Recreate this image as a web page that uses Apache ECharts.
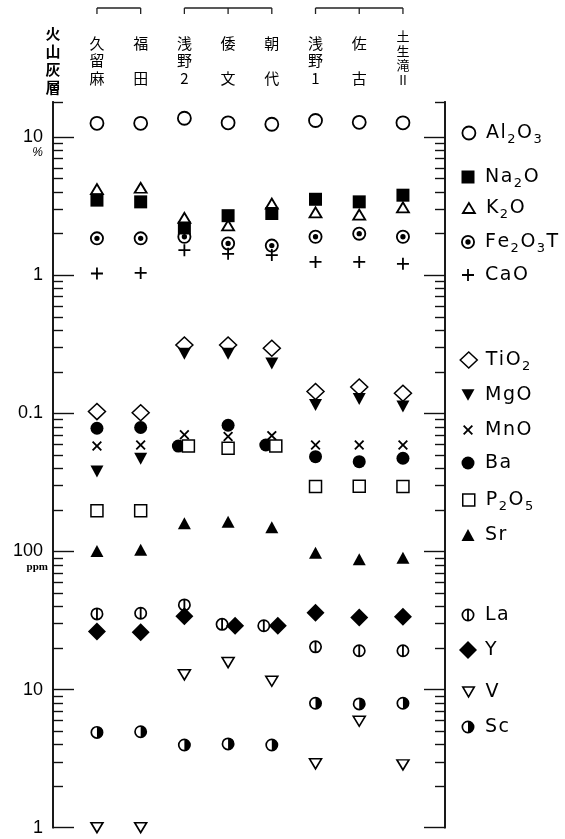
<!DOCTYPE html>
<html>
<head>
<meta charset="UTF-8">
<title>火山灰層の化学組成</title>
<script src="https://cdn.jsdelivr.net/npm/echarts@6/dist/echarts.min.js"></script>
<style>
    html, body { margin: 0; padding: 0; background: #fff; }
    #chart { width: 565px; height: 839px; }
</style>
</head>
<body>
<div id="chart"></div>
<script>
    // 火山灰層
    var layers = ['久留麻', '福田', '浅野2', '倭文', '朝代', '浅野1', '佐古', '土生滝II'];

    // 主成分 (%)
    var Al2O3  = [12.6, 12.6, 13.7, 12.7, 12.4, 13.2, 12.8, 12.7];
    var Na2O   = [3.5, 3.4, 2.2, 2.7, 2.8, 3.55, 3.4, 3.8];
    var K2O    = [4.2, 4.3, 2.6, 2.3, 3.3, 2.85, 2.75, 3.1];
    var Fe2O3T = [1.85, 1.85, 1.9, 1.7, 1.64, 1.9, 2.0, 1.9];
    var CaO    = [1.03, 1.04, 1.52, 1.43, 1.4, 1.25, 1.25, 1.21];
    var TiO2   = [0.103, 0.101, 0.313, 0.313, 0.296, 0.144, 0.155, 0.14];
    var MgO    = [0.038, 0.047, 0.27, 0.27, 0.23, 0.115, 0.127, 0.112];
    var MnO    = [0.058, 0.059, 0.07, 0.068, 0.069, 0.059, 0.059, 0.059];
    var P2O5   = [0.0197, 0.0197, 0.058, 0.056, 0.058, 0.0295, 0.0297, 0.0295];

    // 微量成分 (ppm)
    var Ba = [780, 790, 580, 820, 590, 486, 447, 473];
    var Sr = [101, 103, 160, 164, 150, 98, 88, 90];
    var La = [35.3, 35.7, 41, 29.7, 29, 20.4, 19.1, 19.1];
    var Y  = [26.3, 26, 34, 29, 29, 36, 33.2, 33.7];
    var V  = [1, 1, 12.8, 15.7, 11.5, 2.9, 5.9, 2.85];
    var Sc = [4.9, 4.95, 3.97, 4.04, 3.97, 7.96, 7.87, 7.96];

    // 目盛 (軸は ppm、上側は % 表示)
    var majorTicks = [1, 10, 100, 1000, 10000, 100000];
    var tickLabels = ['1', '10', '100', '0.1', '1', '10'];
    var tickUnits  = ['', '', 'ppm', '', '', '%'];
    var yMax = 180000;
    var PCT = 10000;   // 1% = 10000 ppm

    var minorTicks = [];
    for (var k = 0; k < 6; k++) {
        for (var m = 2; m < 10; m++) {
            if (m * Math.pow(10, k) < yMax) minorTicks.push(m * Math.pow(10, k));
        }
    }
    minorTicks.push(yMax);

    // 記号
    function polyPath(pts) {
        return 'M' + pts.map(function (p) { return p[0].toFixed(2) + ',' + p[1].toFixed(2); }).join('L') + 'Z';
    }
    var plusPts = [[-1.2, -8], [1.2, -8], [1.2, -1.2], [8, -1.2], [8, 1.2], [1.2, 1.2], [1.2, 8],
        [-1.2, 8], [-1.2, 1.2], [-8, 1.2], [-8, -1.2], [-1.2, -1.2]];
    var PLUS = polyPath(plusPts);
    var CROSS = polyPath(plusPts.map(function (p) {
        return [(p[0] - p[1]) * Math.SQRT1_2, (p[0] + p[1]) * Math.SQRT1_2];
    }));
    var RING = 'M0,-10A10,10,0,1,1,0,10A10,10,0,1,1,0,-10ZM0,-7.4A7.4,7.4,0,1,0,0,7.4A7.4,7.4,0,1,0,0,-7.4Z';
    var DOT  = 'M0,-3.8A3.8,3.8,0,1,1,0,3.8A3.8,3.8,0,1,1,0,-3.8Z';
    var BAR  = 'M-1.4,-9L1.4,-9L1.4,9L-1.4,9Z';
    var HALF = 'M0,-7.4A7.4,7.4,0,0,1,0,7.4Z';
    var TRI_DOWN = 'M-10,-8.7L10,-8.7L0,8.7Z';

    var marks = [
        {name: 'Al2O3', data: Al2O3, pct: true, symbol: 'circle', size: [13, 13], open: true, bw: 1.8},
        {name: 'Fe2O3T', data: Fe2O3T, pct: true, symbol: 'path://' + RING + DOT, size: [14, 14]},
        {name: 'CaO', data: CaO, pct: true, symbol: 'path://' + PLUS, size: [12, 12]},
        {name: 'K2O', data: K2O, pct: true, symbol: 'triangle', size: [12, 10], open: true, bw: 1.8},
        {name: 'Na2O', data: Na2O, pct: true, symbol: 'rect', size: [13, 13]},
        {name: 'TiO2', data: TiO2, pct: true, symbol: 'diamond', size: [17, 16], open: true, bw: 1.5},
        {name: 'MgO', data: MgO, pct: true, symbol: 'path://' + TRI_DOWN, size: [13, 12]},
        {name: 'MnO', data: MnO, pct: true, symbol: 'path://' + CROSS, size: [10, 10]},
        {name: 'Ba', data: Ba, symbol: 'circle', size: [13, 13], shift: {2: -6, 4: -6}},
        {name: 'P2O5', data: P2O5, pct: true, symbol: 'rect', size: [12, 12], open: true, bw: 1.5, shift: {2: 4, 4: 4}},
        {name: 'Sr', data: Sr, symbol: 'triangle', size: [13, 12]},
        {name: 'La', data: La, symbol: 'path://' + RING + BAR, size: [13, 13], shift: {3: -6, 4: -8}},
        {name: 'Y', data: Y, symbol: 'diamond', size: [18, 18], shift: {3: 7, 4: 6}},
        {name: 'V', data: V, symbol: 'path://' + TRI_DOWN, size: [12, 10], open: true, bw: 1.6},
        {name: 'Sc', data: Sc, symbol: 'path://' + RING + HALF, size: [13, 13]}
    ];

    var legendRows = [['Al2O3', 133], ['Na2O', 177], ['K2O', 208], ['Fe2O3T', 242], ['CaO', 275],
        ['TiO2', 360], ['MgO', 395], ['MnO', 430], ['Ba', 463], ['P2O5', 500], ['Sr', 535],
        ['La', 615], ['Y', 650], ['V', 692], ['Sc', 727]];

    var chart = echarts.init(document.getElementById('chart'));

    function styleOf(mk) {
        return mk.open
            ? {color: '#fff', borderColor: '#000', borderWidth: mk.bw, opacity: 1}
            : {color: '#000', borderWidth: 0, opacity: 1};
    }

    var series = marks.map(function (mk) {
        return {
            name: mk.name,
            type: 'scatter',
            clip: false,
            symbol: mk.symbol,
            symbolSize: mk.size,
            itemStyle: styleOf(mk),
            data: mk.data.map(function (v, i) {
                var item = {value: [i, mk.pct ? v * PCT : v]};
                if (mk.shift && mk.shift[i]) item.symbolOffset = [mk.shift[i], 0];
                return item;
            })
        };
    });

    var byName = {};
    marks.forEach(function (mk) { byName[mk.name] = mk; });

    var legends = legendRows.map(function (row) {
        var mk = byName[row[0]];
        var w = mk.size[0], h = mk.size[1];
        return {
            data: [{name: row[0], icon: mk.symbol, itemStyle: styleOf(mk)}],
            left: 468 - w / 2,
            top: row[1] - 13,
            padding: 0,
            itemWidth: w,
            itemHeight: h,
            selectedMode: false,
            formatter: function (name) {
                return name.split('').map(function (c) {
                    return /\d/.test(c) ? '{s|' + c + '}' : '{a|' + c + '}';
                }).join('');
            },
            textStyle: {
                color: '#000', fontSize: 19, lineHeight: 26, fontFamily: 'DejaVu Sans',
                padding: [0, 0, 0, 12 - w / 2],
                rich: {
                    a: {fontSize: 19, lineHeight: 26, fontFamily: 'DejaVu Sans', color: '#000', padding: [0, 1.5, 0, 0]},
                    s: {fontSize: 13, lineHeight: 13, verticalAlign: 'bottom', fontFamily: 'DejaVu Sans', color: '#000', padding: [0, 1.5, 0, 0]}
                }
            }
        };
    });

    function labelFor(v) {
        var i = Math.round(Math.log(v) / Math.LN10);
        if (!tickLabels[i]) return '';
        var u = tickUnits[i];
        if (!u) return '{n|' + tickLabels[i] + '}';
        return '{e| }\n{n|' + tickLabels[i] + '}\n{' + (u === '%' ? 'p' : 'u') + '|' + u + '}';
    }

    function yAx(side, major) {
        return {
            type: 'log', logBase: 10, min: 1, max: yMax,
            position: side,
            offset: side === 'left' ? 22.1 : 20.2,
            axisLine: {show: true, lineStyle: {color: '#111', width: 1.6}},
            axisTick: {
                show: true, inside: true, length: major ? 21 : 10,
                lineStyle: {color: '#111', width: 1.4},
                customValues: major ? majorTicks : minorTicks
            },
            axisLabel: {show: false},
            splitLine: {show: false},
            minorTick: {show: false}
        };
    }

    var yMain = yAx('left', true);
    yMain.axisLabel = {
        show: true,
        margin: 5,
        customValues: majorTicks,
        formatter: labelFor,
        color: '#000',
        rich: {
            n: {fontSize: 18, lineHeight: 18, fontFamily: 'Liberation Sans', color: '#000', padding: [0, 5, 0, 0]},
            e: {fontSize: 10, lineHeight: 13},
            p: {fontSize: 12, lineHeight: 13, fontStyle: 'italic', fontFamily: 'Liberation Sans', color: '#000', padding: [0, 5, 0, 0]},
            u: {fontSize: 11, lineHeight: 13, fontWeight: 'bold', fontFamily: 'Liberation Serif', color: '#000'}
        }
    };
    yMain.name = '火\n山\n灰\n層';
    yMain.nameLocation = 'end';
    yMain.nameGap = 6;
    yMain.nameTextStyle = {
        color: '#000', fontSize: 15, lineHeight: 18, fontWeight: 'bold',
        fontFamily: 'Noto Sans CJK JP', align: 'center', verticalAlign: 'bottom'
    };

    var option = {
        animation: false,
        backgroundColor: '#fff',
        grid: {left: 75.1, right: 140.2, top: 101.9, bottom: 11.3, containLabel: false, outerBoundsMode: 'none'},
        xAxis: {
            type: 'category',
            position: 'top',
            data: layers,
            boundaryGap: true,
            axisLine: {show: false},
            axisTick: {show: false},
            splitLine: {show: false},
            axisLabel: {
                interval: 0,
                margin: 15,
                formatter: function (name) {
                    var t = name.match(/II|./g);
                    if (t.length === 2) t = [t[0], ' ', t[1]];
                    var s = t.length > 3 ? 'd' : 'c';
                    return t.map(function (c) { return '{' + s + '|' + c + '}'; }).join('\n');
                },
                rich: {
                    c: {fontSize: 15, lineHeight: 17.5, fontFamily: 'Noto Sans CJK JP', color: '#000'},
                    d: {fontSize: 13, lineHeight: 14.5, fontFamily: 'Noto Sans CJK JP', color: '#000'}
                }
            }
        },
        yAxis: [yMain, yAx('left', false), yAx('right', true), yAx('right', false)],
        legend: legends,
        series: series
    };

    chart.setOption(option);

    // 上部の括弧
    var groups = [[0, 1], [2, 3, 4], [5, 6, 7]];
    var graphics = [];
    groups.forEach(function (g) {
        var xs = g.map(function (i) { return chart.convertToPixel({xAxisIndex: 0}, i); });
        graphics.push({
            type: 'line',
            shape: {x1: xs[0], y1: 8, x2: xs[xs.length - 1], y2: 8},
            style: {stroke: '#222', lineWidth: 1.3}
        });
        xs.forEach(function (x) {
            graphics.push({
                type: 'line',
                shape: {x1: x, y1: 8, x2: x, y2: 14},
                style: {stroke: '#222', lineWidth: 1.3}
            });
        });
    });
    chart.setOption({graphic: graphics});
</script>
</body>
</html>
